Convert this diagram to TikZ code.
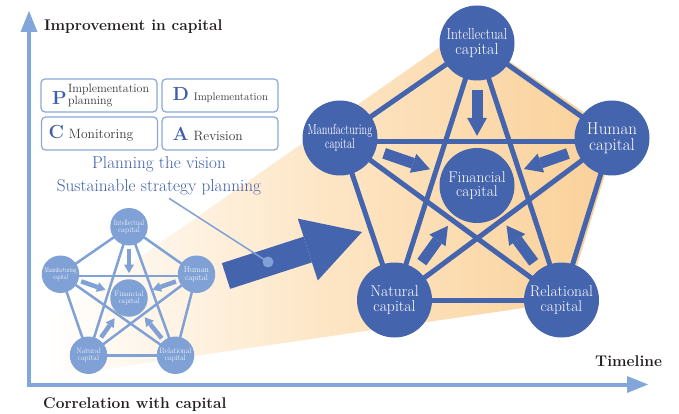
\documentclass[tikz,border=0pt]{standalone}
\usepackage{graphicx}
\usetikzlibrary{arrows.meta,backgrounds}
\definecolor{dblue}{RGB}{69,100,174}
\definecolor{lblue}{RGB}{128,161,213}
\definecolor{axblue}{RGB}{130,166,218}
\definecolor{tblue}{RGB}{64,94,170}
\definecolor{boxline}{RGB}{140,168,218}
\definecolor{orR}{RGB}{250,208,152}
\definecolor{orM}{RGB}{253,229,196}
\definecolor{txt}{RGB}{35,31,32}
\definecolor{gtxt}{RGB}{55,55,55}
\newcommand{\sq}[2]{\scalebox{#1}[1]{#2}}
\newcommand{\pdl}[1]{{\fontsize{19}{19}\selectfont\bfseries\color{tblue}#1}}
\tikzset{
  bignode/.style={circle, fill=dblue, text=white, minimum size=75pt, inner sep=0pt, align=center},
  bigline/.style={draw=dblue, line width=5pt},
  bigarr/.style={draw=dblue, line width=11pt, -{Triangle[width=20pt,length=18pt,line width=0pt]}, shorten <=9pt, shorten >=12pt},
  smallnode/.style={circle, fill=lblue, text=white, minimum size=75pt, inner sep=0pt, align=center},
  smallline/.style={draw=lblue, line width=2.5pt},
  smallarr/.style={draw=lblue, line width=4.5pt, -{Triangle[width=10pt,length=8.5pt,line width=0pt]}, shorten <=3pt, shorten >=6pt},
  blockarr/.style={draw=dblue, line width=27pt, -{Triangle[width=65pt,length=57pt,line width=0pt]}},
  axis/.style={draw=axblue, line width=4pt},
  axlabel/.style={font=\fontsize{15.5}{18}\selectfont\bfseries, text=txt, inner sep=0pt},
  bluetxt/.style={font=\fontsize{17.2}{20}\selectfont, text=tblue, inner sep=0pt},
  pdbox/.style={draw=boxline, line width=1.2pt, rounded corners=4pt, fill=white, minimum height=33pt, text width=102pt, inner xsep=7pt, inner ysep=0pt, align=left, font=\fontsize{13.5}{14}\selectfont, text=gtxt},
  calldot/.style={circle, fill=lblue, minimum size=11pt, inner sep=0pt},
  callline/.style={draw=lblue, line width=1.5pt}
}
\newcommand{\capnet}[6]{%
\begin{scope}[shift={#2}, scale=#3, transform shape]
  \node[#4node, font=\fontsize{16}{14.5}\selectfont] (#1Int) at (0,-142.5) {\sq{0.85}{Intellectual}\\capital};
  \node[#4node, font=\fontsize{14.5}{14}\selectfont] (#1Man) at (-137,-47.5) {\sq{0.71}{Manufacturing}\\\sq{0.71}{capital}};
  \node[#4node, font=\fontsize{17}{16}\selectfont] (#1Hum) at (135,-47.5) {Human\\capital};
  \node[#4node, font=\fontsize{15.5}{14.5}\selectfont] (#1Fin) at (0,0) {Financial\\capital};
  \node[#4node, font=\fontsize{15.7}{14.5}\selectfont] (#1Nat) at (#5,114.5) {Natural\\capital};
  \node[#4node, font=\fontsize{15.5}{14.5}\selectfont] (#1Rel) at (#6,114.5) {Relational\\capital};
  \begin{scope}[on background layer]
    \foreach \a/\b in {Int/Hum,Hum/Rel,Rel/Nat,Nat/Man,Man/Int,Int/Nat,Int/Rel,Man/Rel,Hum/Nat}
      \draw[#4line] (#1\a.center) -- (#1\b.center);
    \draw[#4line] ([yshift=-3.5pt]#1Man.center) -- ([yshift=-3.5pt]#1Hum.center);
  \end{scope}
  \foreach \a in {Int,Man,Hum,Nat,Rel}
    \draw[#4arr] (#1\a) -- (#1Fin);
\end{scope}}
\begin{document}
\begin{tikzpicture}[x=1pt,y=-1pt]
\useasboundingbox (0,0) rectangle (679,414);
\begin{scope}[on background layer]
  \fill[white] (0,0) rectangle (679,414);
  \shade[left color=white, right color=orR, middle color=orM]
    (45,323.5) -- (440,47) -- (477,39) -- (617,135) -- (566,302) -- (530,307) -- (45,377.8) -- cycle;
\end{scope}
\capnet{S}{(129,298)}{0.5}{small}{-81}{93}
\capnet{B}{(477,185.5)}{1}{big}{-82.5}{84.5}
% block arrow from small to large
\coordinate (bs) at (226,276);
\coordinate (bt) at (362,232);
\draw[blockarr] (bs) -- (bt);
% PDCA boxes
\node[pdbox] (P) at (99,95.5) {\hbox{\kern4pt\pdl{P}\kern1.5pt\vbox{\fontsize{12}{12}\selectfont\hbox{Implementation}\hbox{planning}}}};
\node[pdbox] (D) at (220,95.5) {\hbox{\kern3.5pt\pdl{D}\kern5pt{\fontsize{11}{12}\selectfont Implementation}}};
\node[pdbox] (C) at (99.5,133.5) {\hbox{\kern0pt\pdl{C}\kern5pt Monitoring}};
\node[pdbox] (A) at (220,133.5) {\hbox{\kern3.5pt\pdl{A}\kern5pt Revision}};
% vision texts
\node[bluetxt, anchor=base] (pv) at (159,168) {Planning the vision};
\node[bluetxt, anchor=base] (ss) at (159,191.6) {Sustainable strategy planning};
% callout
\coordinate (dotc) at (268,262);
\draw[callline] ([xshift=10pt,yshift=-3pt]ss.south) -- (dotc);
\node[calldot] (dot) at (dotc) {};
% axes
\coordinate (ytip) at (29,11);
\coordinate (orig) at (29,384.5);
\coordinate (xtip) at (648,384.5);
\draw[axis, {Triangle[width=17pt,length=21pt,line width=0pt]}-{Triangle[width=17pt,length=21pt,line width=0pt]}] (ytip) -- (orig) -- (xtip);
\node[axlabel, anchor=base west] (ylab) at (44,30.7) {Improvement in capital};
\node[axlabel, anchor=base west] (clab) at (43,408) {Correlation with capital};
\node[axlabel, anchor=base west] (xlab) at (595,366.7) {Timeline};
\end{tikzpicture}
\end{document}
